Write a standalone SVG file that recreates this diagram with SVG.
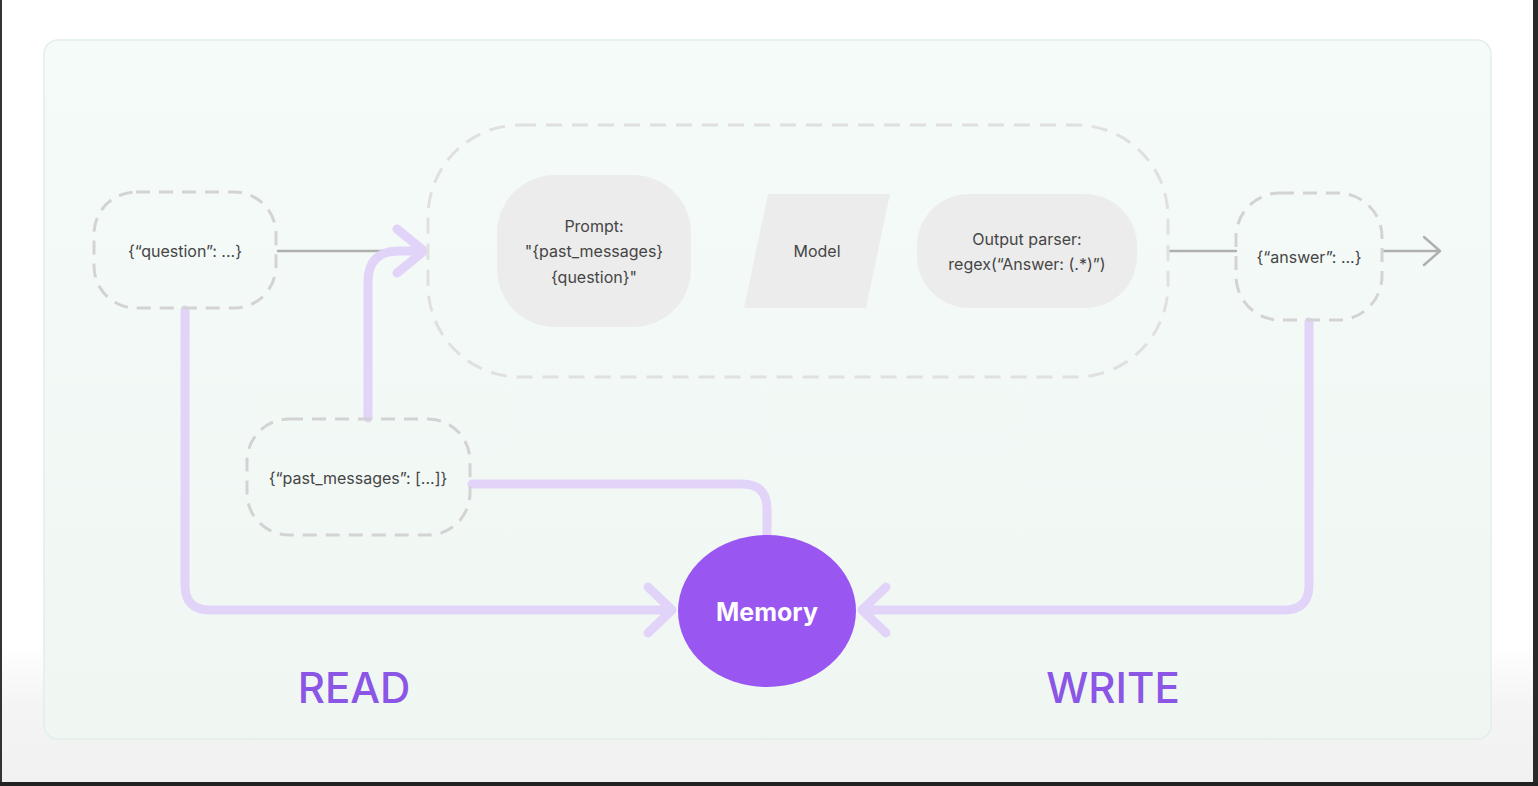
<svg xmlns="http://www.w3.org/2000/svg" width="1538" height="786" viewBox="0 0 1538 786">
  <defs>
    <linearGradient id="bg" x1="0" y1="0" x2="0" y2="1">
      <stop offset="0" stop-color="#ffffff"/>
      <stop offset="0.82" stop-color="#ffffff"/>
      <stop offset="0.9" stop-color="#f4f4f4"/>
      <stop offset="1" stop-color="#f1f1f1"/>
    </linearGradient>
    <linearGradient id="panel" x1="0" y1="0" x2="0" y2="1">
      <stop offset="0" stop-color="#f5fbf8"/>
      <stop offset="1" stop-color="#f0f7f3"/>
    </linearGradient>
  </defs>
  <style>
    .dash { fill: none; stroke: #d3d3d3; stroke-width: 3; stroke-dasharray: 14 9; }
    .big-dash { fill: none; stroke: #e0e0e0; stroke-width: 3; stroke-dasharray: 16 10; }
    .step { fill: #ececec; }
    .t { font-family: Inter, "Noto Sans", "Liberation Sans", sans-serif; font-size: 16px; fill: #454545; text-anchor: middle; }
    .gray { fill: none; stroke: #b0b0b0; stroke-width: 2.5; stroke-linecap: round; stroke-linejoin: round; }
    .purple { fill: none; stroke: #e2d3f9; stroke-width: 9; stroke-linecap: round; stroke-linejoin: round; }
    .label { font-family: Inter, "Noto Sans", "Liberation Sans", sans-serif; font-size: 42px; font-weight: 500; fill: #8b56e6; text-anchor: middle; }
  </style>

  <rect x="0" y="0" width="1538" height="786" fill="url(#bg)"/>
  <rect x="0" y="0" width="2" height="786" fill="#333"/>
  <rect x="1533" y="0" width="5" height="786" fill="#2a2a2a"/>
  <rect x="0" y="782" width="1538" height="4" fill="#222"/>

  <rect id="panel-bg" x="44" y="40" width="1447" height="699" rx="14" fill="url(#panel)" stroke="#e2f0e8" stroke-width="1.5"/>

  <g id="connectors">
    <path class="gray" d="M278 251 H400"/>
    <path class="gray" d="M1170 251 H1236"/>
    <path class="gray" d="M1384 251 H1440 M1424 237 L1440 251 L1424 265"/>
    <path class="purple" d="M368 418 V282 Q368 251 399 251 H424 M397 229 L424 251 L397 273"/>
    <path class="purple" d="M185 310 V585 Q185 610 210 610 H672 M648 587 L672 610 L648 633"/>
    <path class="purple" d="M1309 322 V585 Q1309 610 1284 610 H862 M886 587 L862 610 L886 633"/>
    <path class="purple" d="M472 484 H742 Q767 484 767 509 V536"/>
  </g>

  <g id="chain">
    <rect class="big-dash" x="428" y="125" width="740" height="252" rx="92"/>
  </g>

  <g id="question">
    <rect class="dash" x="94" y="192" width="182" height="116" rx="42"/>
    <text class="t" x="185" y="257">{“question”: ...}</text>
  </g>

  <g id="prompt">
    <rect class="step" x="497" y="175" width="194" height="152" rx="58"/>
    <text class="t" x="594" y="232">Prompt:</text>
    <text class="t" x="594" y="257">"{past_messages}</text>
    <text class="t" x="594" y="283">{question}"</text>
  </g>

  <g id="model">
    <polygon class="step" points="768,194 890,194 866,308 744,308"/>
    <text class="t" x="817" y="257">Model</text>
  </g>

  <g id="parser">
    <rect class="step" x="917" y="194" width="220" height="114" rx="52"/>
    <text class="t" x="1027" y="245">Output parser:</text>
    <text class="t" x="1027" y="270">regex(“Answer: (.*)”)</text>
  </g>

  <g id="answer">
    <rect class="dash" x="1236" y="193" width="146" height="127" rx="44"/>
    <text class="t" x="1309" y="263">{“answer”: ...}</text>
  </g>

  <g id="past-messages">
    <rect class="dash" x="247" y="419" width="223" height="116" rx="42"/>
    <text class="t" x="358" y="484">{“past_messages”: [...]}</text>
  </g>

  <g id="memory">
    <ellipse cx="767" cy="611" rx="89" ry="76" fill="#9956f1"/>
    <text x="767" y="621" font-family="Inter, 'Noto Sans', 'Liberation Sans', sans-serif" font-size="25" font-weight="bold" fill="#ffffff" text-anchor="middle">Memory</text>
  </g>

  <g id="labels">
    <text class="label" x="354" y="703">READ</text>
    <text class="label" x="1113" y="703">WRITE</text>
  </g>
</svg>
